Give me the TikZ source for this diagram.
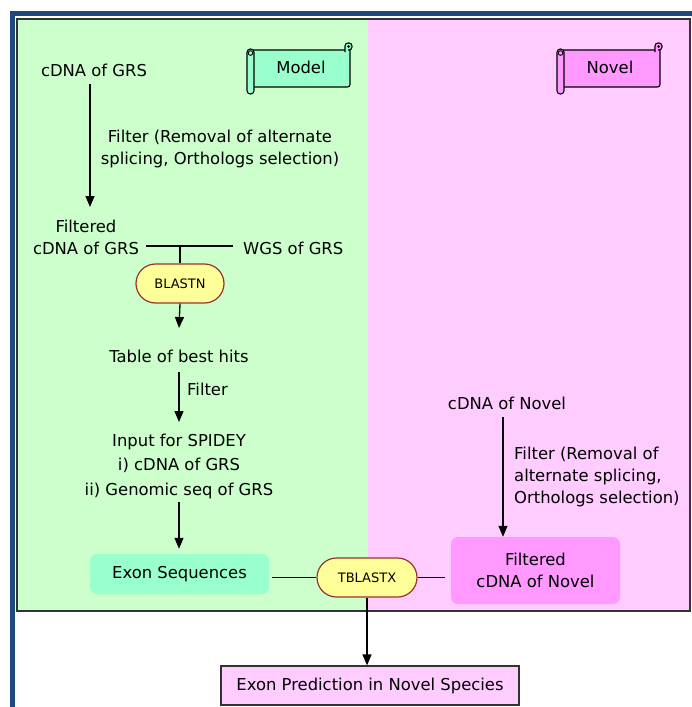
\documentclass[tikz,border=0pt]{standalone}
\usepackage{fontspec}
\setmainfont{DejaVu Sans}
\usetikzlibrary{arrows.meta,shapes.misc}
\definecolor{bgg}{HTML}{CCFFCC}
\definecolor{bgp}{HTML}{FFCCFF}
\definecolor{aqua}{HTML}{99FFCC}
\definecolor{magn}{HTML}{FF99FF}
\definecolor{pilly}{HTML}{FFFF99}
\definecolor{pillb}{HTML}{993333}
\definecolor{frameblue}{HTML}{1F497D}
\definecolor{dgray}{HTML}{333333}
\newcommand\myscroll[2]{%
\begin{scope}[xshift=#1pt]
  \draw[fill=#2, line width=1.1pt, rounded corners=2.5pt] (98,46) -- (103,46) -- (103,87) -- (4,87) -- (4,50) -- (98,50);
  \draw[fill=#2, line width=1.1pt, rounded corners=3pt] (98,52) -- (98,43) -- (105,43) -- (105,50) -- (101,50);
  \fill[black] (101.5,46.5) circle (1.5pt);
  \draw[fill=#2, line width=1.1pt, rounded corners=3.3pt] (0,49) rectangle (7,94);
  \draw[line width=0.9pt] (3.5,53) circle (2.3pt);
\end{scope}}
\begin{document}
\begin{tikzpicture}[x=1pt,y=-1pt,
  txt/.style={font=\fontsize{16.4}{22}\selectfont, inner sep=0pt, align=center},
  arr/.style={line width=1.3pt, -{Triangle[length=11pt,width=9pt]}},
  ln/.style={line width=1.2pt},
  pill/.style={rounded rectangle, draw=pillb, fill=pilly, line width=1.2pt, inner sep=0pt, font=\fontsize{13}{15}\selectfont},
  softbox/.style={rounded corners=7pt, inner sep=0pt, align=center, font=\fontsize{16.4}{22}\selectfont}]
\useasboundingbox (0,0) rectangle (692,707);
% frame
\fill[frameblue] (10,11) rectangle (692,16);
\fill[frameblue] (10,11) rectangle (15,707);
\fill[bgg] (17,19) rectangle (368,611);
\fill[bgp] (368,19) rectangle (690,611);
\draw[dgray, line width=1.5pt] (17,19) rectangle (690,611);
% scrolls
\myscroll{247}{aqua}
\myscroll{557}{magn}
\node[txt, anchor=base] (model) at (301,73) {Model};
\node[txt, anchor=base] (novel) at (610,73) {Novel};
% left column
\node[txt, anchor=base] (cdna) at (94,76) {cDNA of GRS};
\node[txt, anchor=base] (filt1) at (220,164) {Filter (Removal of alternate\\splicing, Orthologs selection)};
\node[txt, anchor=base] (fcdna) at (86,254) {Filtered\\cDNA of GRS};
\node[txt, anchor=base west] (wgs) at (243,254) {WGS of GRS};
\node[pill, minimum width=88pt, minimum height=39pt] (blastn) at (180,283.5) {BLASTN};
\node[txt, anchor=base] (table) at (179,362) {Table of best hits};
\node[txt, anchor=base west] (filt2) at (187,395) {Filter};
\node[txt, anchor=base, font=\fontsize{16.4}{24.5}\selectfont] (input) at (179,495) {Input for SPIDEY\\i) cDNA of GRS\\ii) Genomic seq of GRS};
\node[softbox, fill=aqua, minimum width=179pt, minimum height=40pt] (exon) at (179.5,574) {Exon Sequences};
\node[pill, minimum width=100pt, minimum height=39pt] (tblastx) at (367,577.5) {TBLASTX};
% right column
\node[txt, anchor=base] (cnov) at (507,409) {cDNA of Novel};
\node[txt, anchor=base west, align=left] (filt3) at (514,503) {Filter (Removal of\\alternate splicing,\\Orthologs selection)};
\node[softbox, fill=magn, minimum width=169pt, minimum height=67pt] (fnov) at (535.5,570.5) {Filtered\\cDNA of Novel};
% final
\node[txt, draw=dgray, line width=1.2pt, fill=bgp, minimum width=298pt, minimum height=39pt] (final) at (370,685.5) {Exon Prediction in Novel Species};
% connectors
\coordinate (a1) at (90,84);
\coordinate (a1e) at (90,207);
\draw[arr] (a1) -- (a1e);
\coordinate (hl) at (146,246);
\coordinate (hr) at (233,246);
\draw[ln] (hl) -- (hr);
\draw[ln] (blastn.north |- hl) -- (blastn.north);
\coordinate (a2e) at (179,328);
\draw[arr] (blastn.south) -- (a2e);
\coordinate (a3) at (179,372);
\coordinate (a3e) at (179,422);
\draw[arr] (a3) -- (a3e);
\coordinate (a4) at (179,502);
\draw[arr, shorten >=5pt] (a4) -- (exon.north -| a4);
\coordinate (a5) at (503,417);
\draw[arr] (a5) -- (fnov.north -| a5);
\coordinate (e1) at ([xshift=3pt]exon.east);
\draw[ln] (e1 |- tblastx.west) -- (tblastx.west);
\draw[ln, shorten >=6pt] (tblastx.east) -- (tblastx.east -| fnov.west);
\draw[arr] (tblastx.south) -- (tblastx.south |- final.north);
\end{tikzpicture}
\end{document}
